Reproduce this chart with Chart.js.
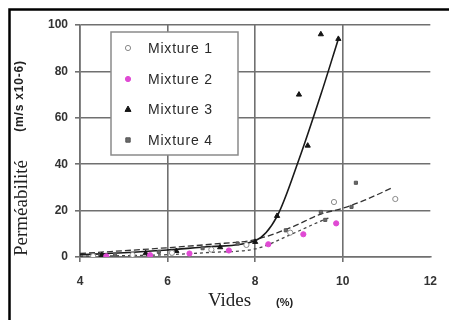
<!DOCTYPE html>
<html>
<head>
<meta charset="utf-8">
<script src="https://cdn.jsdelivr.net/npm/chart.js@4/dist/chart.umd.min.js"></script>
<style>
  html, body { margin: 0; padding: 0; background: #fff; }
  #wrap { width: 449px; height: 320px; }
</style>
</head>
<body>
<div id="wrap"><canvas id="c" width="449" height="320"></canvas></div>
<script>
// Void content (%) against permeability (m/s x10-6) for four mixtures
const xTicks = [4, 6, 8, 10, 12];
const yTicks = [0, 20, 40, 60, 80, 100];

const mixture1X = [4.3, 5.2, 6.1, 7.0, 7.8, 8.8, 9.8, 11.2];
const mixture1Y = [0.4, 0.9, 1.8, 3.2, 5.2, 10.5, 23.7, 25];

const mixture2X = [4.6, 5.6, 6.5, 7.4, 8.3, 9.1, 9.85];
const mixture2Y = [0.3, 0.8, 1.5, 2.8, 5.5, 9.8, 14.5];

const mixture3X = [4.5, 5.5, 6.2, 7.2, 8.0, 8.5, 9.0, 9.2, 9.5, 9.9];
const mixture3Y = [0.8, 1.6, 2.6, 4.2, 6.5, 17.7, 70, 48, 96, 94];

const mixture4X = [4.8, 5.8, 6.8, 7.6, 8.7, 9.5, 9.6, 10.2, 10.3];
const mixture4Y = [1.0, 2.2, 3.8, 5.8, 11.5, 19.4, 16, 21.6, 32];

// Trend curves
const trend3X = [4, 5, 6, 7, 8, 8.5, 9.0, 9.5, 9.9];
const trend3Y = [1, 1.8, 3, 4.5, 7, 17.5, 42, 70, 94];

const trendUpperX = [4, 6, 7, 8, 8.85, 9.5, 10, 10.5, 11.15];
const trendUpperY = [1.5, 4, 5.5, 7.5, 13, 18.5, 21, 24.5, 30];

const trendLowerX = [4, 6, 7, 8, 8.85, 9.5, 9.7];
const trendLowerY = [0.3, 1, 2, 3.5, 10, 15.5, 17];

const seriesNames = ['Mixture 1', 'Mixture 2', 'Mixture 3', 'Mixture 4'];

const pts = (xs, ys) => xs.map((x, i) => ({ x, y: ys[i] }));

const markerStyles = [
  { pointStyle: 'circle', radius: 2.6, bg: '#ffffff', border: '#8a8a8a' },
  { pointStyle: 'circle', radius: 2.6, bg: '#e04ad4', border: '#e04ad4' },
  { pointStyle: 'triangle', radius: 3, bg: '#151515', border: '#151515' },
  { pointStyle: 'rect', radius: 2.2, bg: '#6a6a6a', border: '#555555' }
];

const seriesData = [
  pts(mixture1X, mixture1Y),
  pts(mixture2X, mixture2Y),
  pts(mixture3X, mixture3Y),
  pts(mixture4X, mixture4Y)
];

const datasets = seriesNames.map((name, i) => ({
  label: name,
  data: seriesData[i],
  showLine: false,
  pointStyle: markerStyles[i].pointStyle,
  pointRadius: markerStyles[i].radius,
  pointBackgroundColor: markerStyles[i].bg,
  pointBorderColor: markerStyles[i].border,
  pointBorderWidth: 1,
  order: 1
}));

datasets.push(
  { label: 'trend3', data: pts(trend3X, trend3Y), showLine: true, borderColor: '#1a1a1a',
    borderWidth: 1.6, pointRadius: 0, cubicInterpolationMode: 'monotone', order: 2 },
  { label: 'trendUpper', data: pts(trendUpperX, trendUpperY), showLine: true, borderColor: '#333333',
    borderWidth: 1.3, borderDash: [6, 3], pointRadius: 0, cubicInterpolationMode: 'monotone', order: 2 },
  { label: 'trendLower', data: pts(trendLowerX, trendLowerY), showLine: true, borderColor: '#444444',
    borderWidth: 1.3, borderDash: [3, 3], pointRadius: 0, cubicInterpolationMode: 'monotone', order: 2 }
);

function drawMarker(ctx, st, x, y) {
  ctx.save();
  ctx.fillStyle = st.bg;
  ctx.strokeStyle = st.border;
  ctx.lineWidth = 1;
  const r = st.radius;
  ctx.beginPath();
  if (st.pointStyle === 'circle') {
    ctx.arc(x, y, r, 0, Math.PI * 2);
  } else if (st.pointStyle === 'triangle') {
    ctx.moveTo(x, y - r);
    ctx.lineTo(x + r, y + r * 0.8);
    ctx.lineTo(x - r, y + r * 0.8);
    ctx.closePath();
  } else {
    ctx.rect(x - r, y - r, r * 2, r * 2);
  }
  ctx.fill();
  ctx.stroke();
  ctx.restore();
}

const decorations = {
  id: 'decorations',
  beforeDraw(chart) {
    const ctx = chart.ctx;
    ctx.save();
    ctx.fillStyle = '#ffffff';
    ctx.fillRect(0, 0, chart.width, chart.height);
    ctx.restore();
  },
  afterDraw(chart) {
    const ctx = chart.ctx;
    ctx.save();
    // outer frame
    ctx.strokeStyle = '#000000';
    ctx.lineWidth = 2.5;
    ctx.beginPath();
    ctx.moveTo(chart.width, 9.5);
    ctx.lineTo(9.5, 9.5);
    ctx.lineTo(9.5, chart.height);
    ctx.stroke();

    // legend box
    const lx = 111, ly = 32, lw = 127, lh = 123;
    ctx.fillStyle = '#ffffff';
    ctx.fillRect(lx, ly, lw, lh);
    ctx.strokeStyle = '#8a8a8a';
    ctx.lineWidth = 1.5;
    ctx.strokeRect(lx, ly, lw, lh);
    const rows = [48, 79, 109, 140];
    ctx.font = '14px "Liberation Sans", Arial, sans-serif';
    ctx.letterSpacing = '0.8px';
    ctx.fillStyle = '#2a2a2a';
    ctx.textBaseline = 'middle';
    ctx.textAlign = 'left';
    seriesNames.forEach((name, i) => {
      drawMarker(ctx, markerStyles[i], 128, rows[i]);
      ctx.fillText(name, 148, rows[i] + 1);
    });
    ctx.letterSpacing = '0px';

    // y axis title, two parts
    ctx.fillStyle = '#222222';
    ctx.save();
    ctx.translate(22, 208);
    ctx.rotate(-Math.PI / 2);
    ctx.textAlign = 'center';
    ctx.textBaseline = 'middle';
    ctx.font = '19px "Liberation Serif", "Times New Roman", serif';
    ctx.fillText('Perméabilité', 0, 0);
    ctx.restore();

    ctx.save();
    ctx.translate(20, 96);
    ctx.rotate(-Math.PI / 2);
    ctx.textAlign = 'center';
    ctx.textBaseline = 'middle';
    ctx.font = 'bold 12px "Liberation Sans", Arial, sans-serif';
    ctx.letterSpacing = '0.8px';
    ctx.fillText('(m/s x10-6)', 0, 0);
    ctx.letterSpacing = '0px';
    ctx.restore();

    // x axis title, two parts
    ctx.textAlign = 'left';
    ctx.textBaseline = 'middle';
    ctx.font = '19px "Liberation Serif", "Times New Roman", serif';
    ctx.fillText('Vides', 208, 301);
    ctx.font = 'bold 11px "Liberation Sans", Arial, sans-serif';
    ctx.fillText('(%)', 276, 303);
    ctx.restore();
  }
};

const gridColor = '#707070';

new Chart(document.getElementById('c'), {
  type: 'scatter',
  data: { datasets },
  plugins: [decorations],
  options: {
    responsive: false,
    animation: false,
    layout: { autoPadding: false, padding: { left: 0, top: 25, right: 5, bottom: 0 } },
    plugins: { legend: { display: false }, tooltip: { enabled: false } },
    scales: {
      x: {
        type: 'linear',
        min: 4, max: 12,
        afterBuildTicks: s => { s.ticks = xTicks.map(v => ({ value: v })); },
        afterFit: s => { s.height = 63; },
        grid: {
          color: c => (c.tick && c.tick.value === 12 ? 'rgba(0,0,0,0)' : gridColor),
          lineWidth: 1.6, tickLength: 5, drawTicks: true
        },
        border: { color: gridColor, width: 1.6 },
        ticks: {
          padding: 12,
          color: '#333333',
          font: { family: '"Liberation Sans", Arial, sans-serif', size: 12, weight: 'bold' }
        }
      },
      y: {
        type: 'linear',
        min: 0, max: 100,
        afterBuildTicks: s => { s.ticks = yTicks.map(v => ({ value: v })); },
        afterFit: s => { s.width = 80; },
        grid: { color: gridColor, lineWidth: 1.6, tickLength: 5, drawTicks: true },
        border: { color: gridColor, width: 1.6 },
        ticks: {
          padding: 7,
          color: '#333333',
          font: { family: '"Liberation Sans", Arial, sans-serif', size: 12, weight: 'bold' }
        }
      }
    }
  }
});
</script>
</body>
</html>
